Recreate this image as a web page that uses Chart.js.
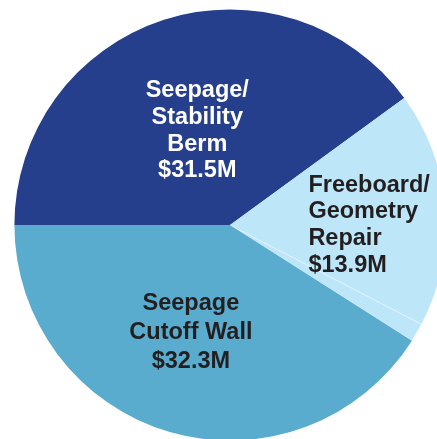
<!DOCTYPE html>
<html>
<head>
<meta charset="utf-8">
<script src="https://cdn.jsdelivr.net/npm/chart.js@4/dist/chart.umd.min.js"></script>
<style>
  html, body { margin: 0; padding: 0; width: 437px; height: 439px; overflow: hidden; background: #ffffff; }
  #wrap { position: absolute; left: 14px; top: 9px; width: 432px; height: 432px; }
</style>
</head>
<body>
<div id="wrap"><canvas id="coutPie"></canvas></div>
<script>
// Données du graphique (millions $)
const categories = ['Seepage/\nStability\nBerm', 'Freeboard/\nGeometry\nRepair', '', 'Seepage\nCutoff Wall'];
const valeurs = [31.5, 13.9, 1.1, 32.3];
const etiquettesMontant = ['$31.5M', '$13.9M', '', '$32.3M'];
const couleurs = ['#263f8d', '#bde6f9', '#bde6f9', '#5aacce'];
const couleursTexte = ['#ffffff', '#231f20', '#231f20', '#231f20'];

// Placement des étiquettes : fraction du rayon, décalage, alignement, interligne
const placementEtiquettes = [
    { frac: 0.46, dx: -2, dy: 0, align: 'center', interligne: 26.7 },
    { frac: 0.36, dx: 1, dy: 6, align: 'left', interligne: 26.7 },
    null,
    { frac: 0.50, dx: -9, dy: 4, align: 'center', interligne: 29 }
];

const etiquettesPlugin = {
    id: 'etiquettesPlugin',
    afterDatasetsDraw(chart) {
        const ctx = chart.ctx;
        const arcs = chart.getDatasetMeta(0).data;
        ctx.save();
        ctx.font = 'bold 23.5px "Liberation Sans", Arial, sans-serif';
        ctx.textBaseline = 'middle';
        arcs.forEach((arc, i) => {
            const place = placementEtiquettes[i];
            if (!place) return;
            const { x, y, startAngle, endAngle, outerRadius } = arc.getProps(['x', 'y', 'startAngle', 'endAngle', 'outerRadius'], true);
            const mid = (startAngle + endAngle) / 2;
            const cx = x + Math.cos(mid) * outerRadius * place.frac + place.dx;
            const cy = y + Math.sin(mid) * outerRadius * place.frac + place.dy;
            const lignes = categories[i].split('\n').concat([etiquettesMontant[i]]);
            const top = cy - (lignes.length - 1) * place.interligne / 2;
            ctx.fillStyle = couleursTexte[i];
            ctx.textAlign = place.align;
            lignes.forEach((ligne, k) => ctx.fillText(ligne, cx, top + k * place.interligne));
        });
        ctx.restore();
    }
};

new Chart(document.getElementById('coutPie').getContext('2d'), {
    type: 'pie',
    data: {
        labels: categories,
        datasets: [{
            data: valeurs,
            backgroundColor: couleurs,
            borderWidth: [0, 0, 0.8, 0],
            borderColor: 'rgba(255,255,255,0.6)'
        }]
    },
    options: {
        responsive: true,
        maintainAspectRatio: false,
        animation: false,
        rotation: 270,
        layout: { padding: 0 },
        plugins: {
            legend: { display: false },
            tooltip: { enabled: false }
        }
    },
    plugins: [etiquettesPlugin]
});
</script>
</body>
</html>
